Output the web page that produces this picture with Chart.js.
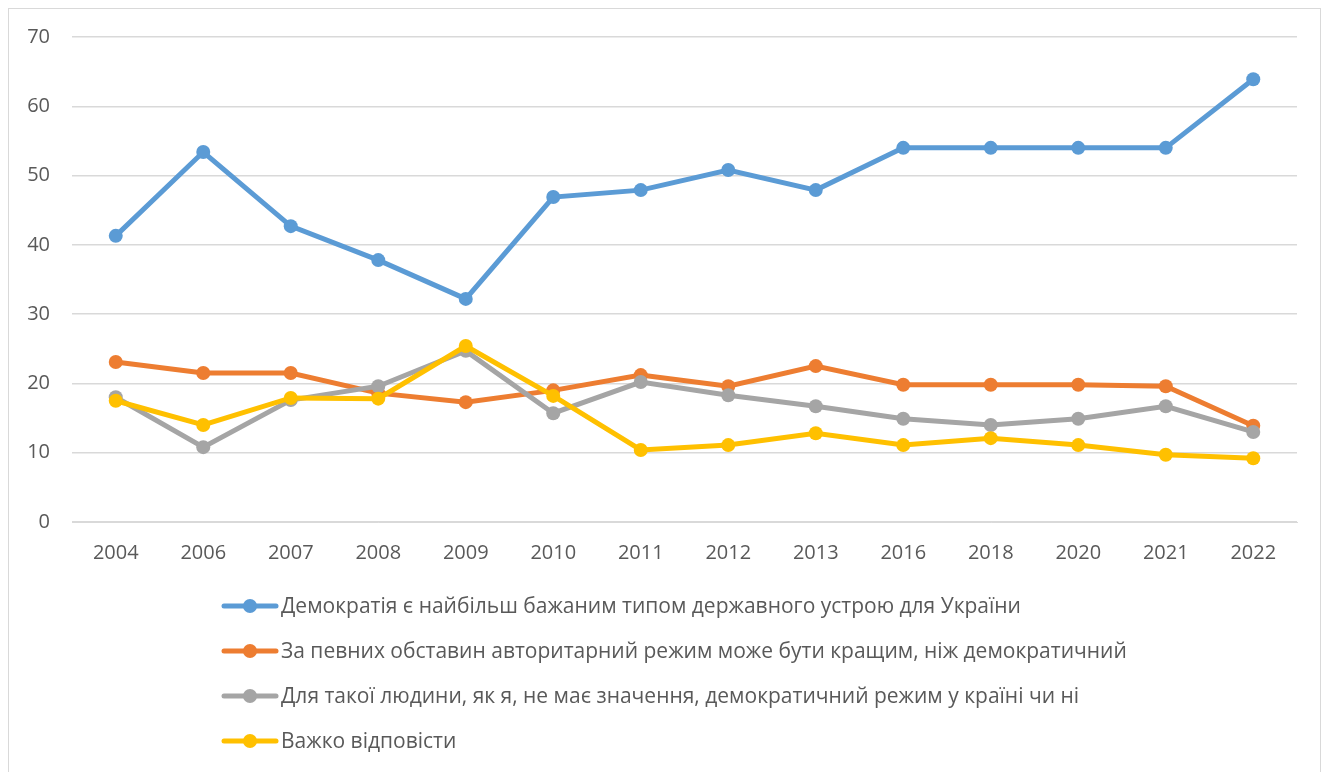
<!DOCTYPE html>
<html>
<head>
<meta charset="utf-8">
<script src="https://cdn.jsdelivr.net/npm/chart.js@4"></script>
<style>
  body { margin: 0; background: #fff; overflow: hidden; }
  #frame { position: absolute; left: 8px; top: 8px; width: 1313px; height: 780px; border: 1px solid #d9d9d9; box-sizing: border-box; }
  #chart { position: absolute; left: 0; top: 0; }
</style>
</head>
<body>
<div id="frame"></div>
<canvas id="chart" width="1330" height="772"></canvas>
<script>
const years = ['2004', '2006', '2007', '2008', '2009', '2010', '2011', '2012', '2013', '2016', '2018', '2020', '2021', '2022'];

const democracyBest = [41.3, 53.4, 42.7, 37.8, 32.2, 46.9, 47.9, 50.8, 47.9, 54, 54, 54, 54, 63.9];
const authoritarianBetter = [23.1, 21.5, 21.5, 18.6, 17.3, 19.0, 21.2, 19.6, 22.5, 19.8, 19.8, 19.8, 19.6, 13.9];
const noDifference = [18.0, 10.8, 17.6, 19.6, 24.7, 15.7, 20.2, 18.3, 16.7, 14.9, 14.0, 14.9, 16.7, 13.0];
const hardToSay = [17.5, 14.0, 17.9, 17.8, 25.4, 18.2, 10.4, 11.1, 12.8, 11.1, 12.1, 11.1, 9.7, 9.2];

const seriesLabels = [
  'Демократія є найбільш бажаним типом державного устрою для України',
  'За певних обставин авторитарний режим може бути кращим, ніж демократичний',
  'Для такої людини, як я, не має значення, демократичний режим у країні чи ні',
  'Важко відповісти'
];
const colors = ['#5b9bd5', '#ed7d31', '#a5a5a5', '#ffc000'];

const FONT = '"Open Sans", sans-serif';
const TEXT = '#595959';

function makeSet(i, data) {
  return {
    label: seriesLabels[i],
    data: data,
    borderColor: colors[i],
    backgroundColor: colors[i],
    borderWidth: 5,
    pointRadius: 7,
    pointHoverRadius: 7,
    pointBorderWidth: 0,
    tension: 0,
    order: 4 - i
  };
}

// vertical legend under the plot
const listLegend = {
  id: 'listLegend',
  afterDraw(chart) {
    const ctx = chart.ctx;
    ctx.save();
    chart.data.datasets.forEach(function (ds, i) {
      const y = 606 + i * 45;
      ctx.strokeStyle = ds.borderColor;
      ctx.lineWidth = 5;
      ctx.lineCap = 'round';
      ctx.beginPath();
      ctx.moveTo(224, y);
      ctx.lineTo(276, y);
      ctx.stroke();
      ctx.fillStyle = ds.borderColor;
      ctx.beginPath();
      ctx.arc(250, y, 7, 0, Math.PI * 2);
      ctx.fill();
      ctx.fillStyle = TEXT;
      ctx.font = '21px ' + FONT;
      ctx.textBaseline = 'middle';
      ctx.textAlign = 'left';
      ctx.fillText(ds.label, 281, y + 1);
    });
    ctx.restore();
  }
};

new Chart(document.getElementById('chart').getContext('2d'), {
  type: 'line',
  data: {
    labels: years,
    datasets: [
      makeSet(0, democracyBest),
      makeSet(1, authoritarianBetter),
      makeSet(2, noDifference),
      makeSet(3, hardToSay)
    ]
  },
  options: {
    responsive: false,
    animation: false,
    layout: { padding: { left: 0, top: 37, right: 33, bottom: 210 } },
    plugins: {
      legend: { display: false },
      tooltip: { enabled: false }
    },
    scales: {
      x: {
        offset: true,
        grid: { display: false, drawTicks: false },
        border: { display: true, color: '#d9d9d9', width: 1 },
        ticks: { color: TEXT, font: { family: FONT, size: 20 }, padding: 19, maxRotation: 0 },
        afterFit: function (scale) { scale.height = 40; }
      },
      y: {
        min: 0,
        max: 70,
        ticks: { stepSize: 10, color: TEXT, font: { family: FONT, size: 20 }, padding: 22 },
        grid: { color: '#d9d9d9', lineWidth: 1.5, drawTicks: false },
        border: { display: false },
        afterFit: function (scale) { scale.width = 72; }
      }
    }
  },
  plugins: [listLegend]
});
</script>
</body>
</html>
